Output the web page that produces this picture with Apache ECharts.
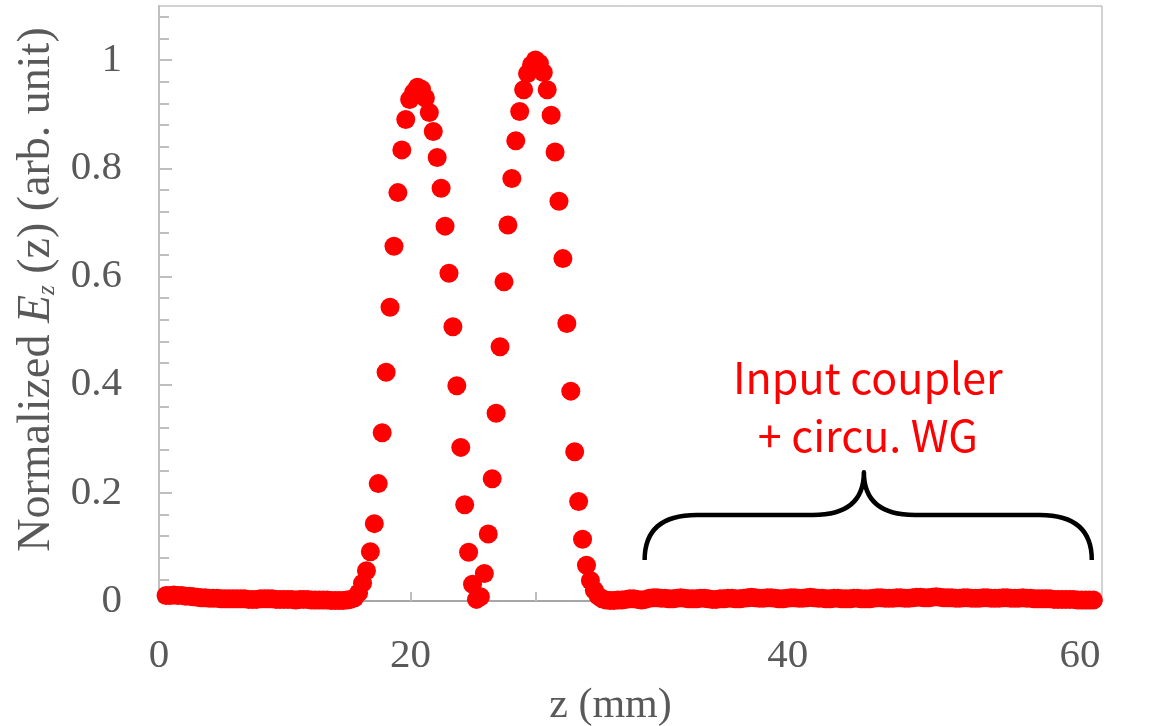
<!DOCTYPE html>
<html>
<head>
<meta charset="utf-8">
<script src="https://cdn.jsdelivr.net/npm/echarts@6/dist/echarts.min.js"></script>
<style>
  html, body { margin: 0; padding: 0; background: #ffffff; }
  #chart { width: 1152px; height: 726px; }
</style>
</head>
<body>
<div id="chart"></div>
<script>
// Axial position of each field sample (mm)
const zMm = [
  0.45, 0.7, 0.95, 1.2, 1.45, 1.7, 1.95, 2.2,
  2.45, 2.7, 2.95, 3.2, 3.45, 3.7, 3.95, 4.2,
  4.45, 4.7, 4.95, 5.2, 5.45, 5.7, 5.95, 6.2,
  6.45, 6.7, 6.95, 7.2, 7.45, 7.7, 7.95, 8.2,
  8.45, 8.7, 8.95, 9.2, 9.45, 9.7, 9.95, 10.2,
  10.45, 10.7, 10.95, 11.2, 11.45, 11.7, 11.95, 12.2,
  12.45, 12.7, 12.95, 13.2, 13.45, 13.7, 13.95, 14.2,
  14.45, 14.7, 14.95, 15.2, 15.45, 15.7, 15.95, 16.2,
  16.45, 16.7, 16.95, 17.2, 17.45, 17.7, 17.95, 18.2,
  18.45, 18.7, 18.95, 19.2, 19.45, 19.7, 19.95, 20.2,
  20.45, 20.7, 20.95, 21.2, 21.45, 21.7, 21.95, 22.2,
  22.45, 22.7, 22.95, 23.2, 23.45, 23.7, 23.95, 24.2,
  24.45, 24.7, 24.95, 25.2, 25.45, 25.7, 25.95, 26.2,
  26.45, 26.7, 26.95, 27.2, 27.45, 27.7, 27.95, 28.2,
  28.45, 28.7, 28.95, 29.2, 29.45, 29.7, 29.95, 30.2,
  30.45, 30.7, 30.95, 31.2, 31.45, 31.7, 31.95, 32.2,
  32.45, 32.7, 32.95, 33.2, 33.45, 33.7, 33.95, 34.2,
  34.45, 34.7, 34.95, 35.2, 35.45, 35.7, 35.95, 36.2,
  36.45, 36.7, 36.95, 37.2, 37.45, 37.7, 37.95, 38.2,
  38.45, 38.7, 38.95, 39.2, 39.45, 39.7, 39.95, 40.2,
  40.45, 40.7, 40.95, 41.2, 41.45, 41.7, 41.95, 42.2,
  42.45, 42.7, 42.95, 43.2, 43.45, 43.7, 43.95, 44.2,
  44.45, 44.7, 44.95, 45.2, 45.45, 45.7, 45.95, 46.2,
  46.45, 46.7, 46.95, 47.2, 47.45, 47.7, 47.95, 48.2,
  48.45, 48.7, 48.95, 49.2, 49.45, 49.7, 49.95, 50.2,
  50.45, 50.7, 50.95, 51.2, 51.45, 51.7, 51.95, 52.2,
  52.45, 52.7, 52.95, 53.2, 53.45, 53.7, 53.95, 54.2,
  54.45, 54.7, 54.95, 55.2, 55.45, 55.7, 55.95, 56.2,
  56.45, 56.7, 56.95, 57.2, 57.45, 57.7, 57.95, 58.2,
  58.45, 58.7, 58.95, 59.2, 59.45
];

// Normalized on-axis field Ez(z)
const ezNorm = [
  0.010, 0.010, 0.011, 0.010, 0.010, 0.009, 0.009, 0.008,
  0.007, 0.006, 0.006, 0.005, 0.005, 0.005, 0.004, 0.004,
  0.004, 0.004, 0.004, 0.004, 0.004, 0.003, 0.003, 0.003,
  0.004, 0.004, 0.004, 0.004, 0.003, 0.003, 0.003, 0.003,
  0.003, 0.002, 0.003, 0.003, 0.003, 0.002, 0.002, 0.002,
  0.002, 0.002, 0.001, 0.001, 0.001, 0.001, 0.002, 0.003,
  0.006, 0.015, 0.033, 0.056, 0.091, 0.143, 0.217, 0.311,
  0.423, 0.543, 0.656, 0.755, 0.834, 0.890, 0.927, 0.940,
  0.950, 0.946, 0.930, 0.903, 0.868, 0.820, 0.763, 0.693,
  0.606, 0.507, 0.398, 0.284, 0.178, 0.090, 0.031, 0.003,
  0.008, 0.051, 0.124, 0.226, 0.347, 0.470, 0.590, 0.695,
  0.781, 0.851, 0.905, 0.945, 0.975, 0.991, 1.000, 0.994,
  0.977, 0.945, 0.898, 0.830, 0.739, 0.633, 0.513, 0.388,
  0.276, 0.184, 0.114, 0.066, 0.038, 0.020, 0.009, 0.004,
  0.002, 0.001, 0.001, 0.002, 0.002, 0.003, 0.004, 0.004,
  0.003, 0.002, 0.003, 0.005, 0.006, 0.006, 0.005, 0.005,
  0.004, 0.004, 0.005, 0.006, 0.005, 0.004, 0.004, 0.004,
  0.005, 0.005, 0.004, 0.003, 0.003, 0.004, 0.004, 0.005,
  0.005, 0.004, 0.004, 0.005, 0.006, 0.007, 0.006, 0.005,
  0.005, 0.006, 0.006, 0.005, 0.004, 0.004, 0.005, 0.006,
  0.006, 0.005, 0.005, 0.006, 0.007, 0.006, 0.005, 0.005,
  0.004, 0.004, 0.005, 0.005, 0.004, 0.004, 0.004, 0.005,
  0.005, 0.004, 0.004, 0.004, 0.005, 0.006, 0.006, 0.005,
  0.005, 0.005, 0.006, 0.006, 0.005, 0.005, 0.006, 0.007,
  0.007, 0.006, 0.006, 0.007, 0.008, 0.007, 0.006, 0.006,
  0.006, 0.005, 0.005, 0.006, 0.006, 0.005, 0.005, 0.005,
  0.006, 0.006, 0.005, 0.005, 0.005, 0.006, 0.006, 0.005,
  0.005, 0.005, 0.006, 0.005, 0.005, 0.004, 0.004, 0.004,
  0.004, 0.004, 0.003, 0.003, 0.003, 0.003, 0.003, 0.003,
  0.002, 0.002, 0.002, 0.002, 0.002
];

// Axis tick texts and where they sit on the z axis
const xTickLabels = ['0', '20', '40', '60'];
const xTickLabelAt = [0, 16, 40, 58.6];
const xTickMarkAt = [8, 16, 24, 32, 40, 48, 56];
const yTickLabels = [0, 0.2, 0.4, 0.6, 0.8, 1];
const yMinorTickAt = [0.04, 0.08, 0.12, 0.16, 0.24, 0.28, 0.32, 0.36, 0.44, 0.48, 0.52, 0.56,
                      0.64, 0.68, 0.72, 0.76, 0.84, 0.88, 0.92, 0.96, 1.04, 1.08];

// Brace marking the coupler region: [z start, z end, z tip, Ez ends, Ez bar, Ez tip]
const braceRegion = [30.9, 59.35, 44.85, 0.076, 0.159, 0.238];
// Region note: [z centre, Ez centre]
const noteText = 'Input coupler\n+ circu. WG';
const noteAt = [45.1, 0.36];

const serif = '"Liberation Serif", "Times New Roman", serif';
const axisGrey = '#595959';
const lineGrey = '#bfbfbf';

const points = zMm.map((z, i) => [z, ezNorm[i]]);

function xLabelText(v) {
  for (let i = 0; i < xTickLabelAt.length; i++) {
    if (Math.abs(xTickLabelAt[i] - v) < 1e-6) return xTickLabels[i];
  }
  return '';
}

const chart = echarts.init(document.getElementById('chart'), null, { renderer: 'canvas' });

chart.setOption({
  animation: false,
  backgroundColor: '#ffffff',
  grid: {
    left: 159, right: 50, top: 6, bottom: 125,
    outerBoundsMode: 'none', containLabel: false,
    show: true, borderColor: '#a6a6a6', borderWidth: 1, backgroundColor: 'transparent'
  },
  xAxis: [{
    type: 'value', min: 0, max: 60, position: 'bottom',
    name: 'z (mm)', nameLocation: 'middle', nameGap: 84,
    nameTextStyle: { fontFamily: serif, fontSize: 42, color: axisGrey, padding: [0, 40, 0, 0] },
    axisLine: { show: true, onZero: false, lineStyle: { color: lineGrey, width: 2 } },
    axisTick: { show: true, inside: true, length: 9, customValues: xTickMarkAt, lineStyle: { color: lineGrey, width: 2 } },
    axisLabel: {
      show: true, customValues: xTickLabelAt, margin: 35,
      showMinLabel: true, showMaxLabel: true, hideOverlap: false,
      fontFamily: serif, fontSize: 41, color: axisGrey,
      formatter: (v) => xLabelText(v)
    },
    splitLine: { show: false }
  }, {
    type: 'value', min: 0, max: 60, position: 'top',
    axisLine: { show: true, lineStyle: { color: '#a6a6a6', width: 2 } },
    axisTick: { show: false }, axisLabel: { show: false }, splitLine: { show: false }
  }],
  yAxis: [{
    type: 'value', min: 0, max: 1.1, position: 'left',
    name: '{a|Normalized }{i|E}{s|z}{a| (z) (arb. unit)}',
    nameLocation: 'middle', nameGap: 79, nameRotate: 90,
    nameTextStyle: {
      padding: [0, 0, 0, 28],
      rich: {
        a: { fontFamily: serif, fontSize: 46, color: axisGrey },
        i: { fontFamily: serif, fontSize: 46, color: axisGrey, fontStyle: 'italic' },
        s: { fontFamily: serif, fontSize: 25, color: axisGrey, fontStyle: 'italic', verticalAlign: 'bottom', lineHeight: 2 }
      }
    },
    axisLine: { show: true, onZero: false, lineStyle: { color: lineGrey, width: 2 } },
    axisTick: { show: true, inside: true, length: 13, customValues: yTickLabels, lineStyle: { color: lineGrey, width: 2 } },
    axisLabel: {
      show: true, customValues: yTickLabels, margin: 37,
      fontFamily: serif, fontSize: 41, color: axisGrey
    },
    splitLine: { show: false }
  }, {
    type: 'value', min: 0, max: 1.1, position: 'left', gridIndex: 0,
    axisLine: { show: false },
    axisTick: { show: true, inside: true, length: 10, customValues: yMinorTickAt, lineStyle: { color: lineGrey, width: 2 } },
    axisLabel: { show: false },
    splitLine: { show: false }
  }],
  series: [{
    type: 'scatter',
    name: 'Ez',
    xAxisIndex: 0, yAxisIndex: 0,
    data: points,
    symbol: 'circle', symbolSize: 19,
    itemStyle: { color: '#ff0000', opacity: 1 },
    silent: true
  }, {
    type: 'custom',
    name: 'region',
    xAxisIndex: 0, yAxisIndex: 0,
    clip: false, silent: true,
    data: [braceRegion.concat(noteAt)],
    encode: { x: [0, 1, 2, 6], y: [3, 4, 5, 7] },
    renderItem: (params, api) => {
      const pL = api.coord([api.value(0), api.value(3)]);
      const pR = api.coord([api.value(1), api.value(3)]);
      const pM = api.coord([api.value(2), api.value(5)]);
      const yBar = api.coord([api.value(2), api.value(4)])[1];
      const rEnd = 52, rMid = 51;
      const d = 'M' + pL[0] + ',' + pL[1] +
        ' Q' + pL[0] + ',' + yBar + ' ' + (pL[0] + rEnd) + ',' + yBar +
        ' L' + (pM[0] - rMid) + ',' + yBar +
        ' Q' + pM[0] + ',' + yBar + ' ' + pM[0] + ',' + pM[1] +
        ' Q' + pM[0] + ',' + yBar + ' ' + (pM[0] + rMid) + ',' + yBar +
        ' L' + (pR[0] - rEnd) + ',' + yBar +
        ' Q' + pR[0] + ',' + yBar + ' ' + pR[0] + ',' + pR[1];
      const pT = api.coord([api.value(6), api.value(7)]);
      return {
        type: 'group',
        children: [{
          type: 'path',
          shape: { pathData: d },
          style: { fill: 'none', stroke: '#000000', lineWidth: 4.5, lineCap: 'butt', lineJoin: 'round' }
        }, {
          type: 'text',
          x: pT[0], y: pT[1],
          style: {
            text: noteText,
            fill: '#ff0000',
            font: '43px "Noto Sans CJK JP", "Noto Sans", sans-serif',
            align: 'center', verticalAlign: 'middle',
            lineHeight: 58
          }
        }]
      };
    }
  }]
});
</script>
</body>
</html>
